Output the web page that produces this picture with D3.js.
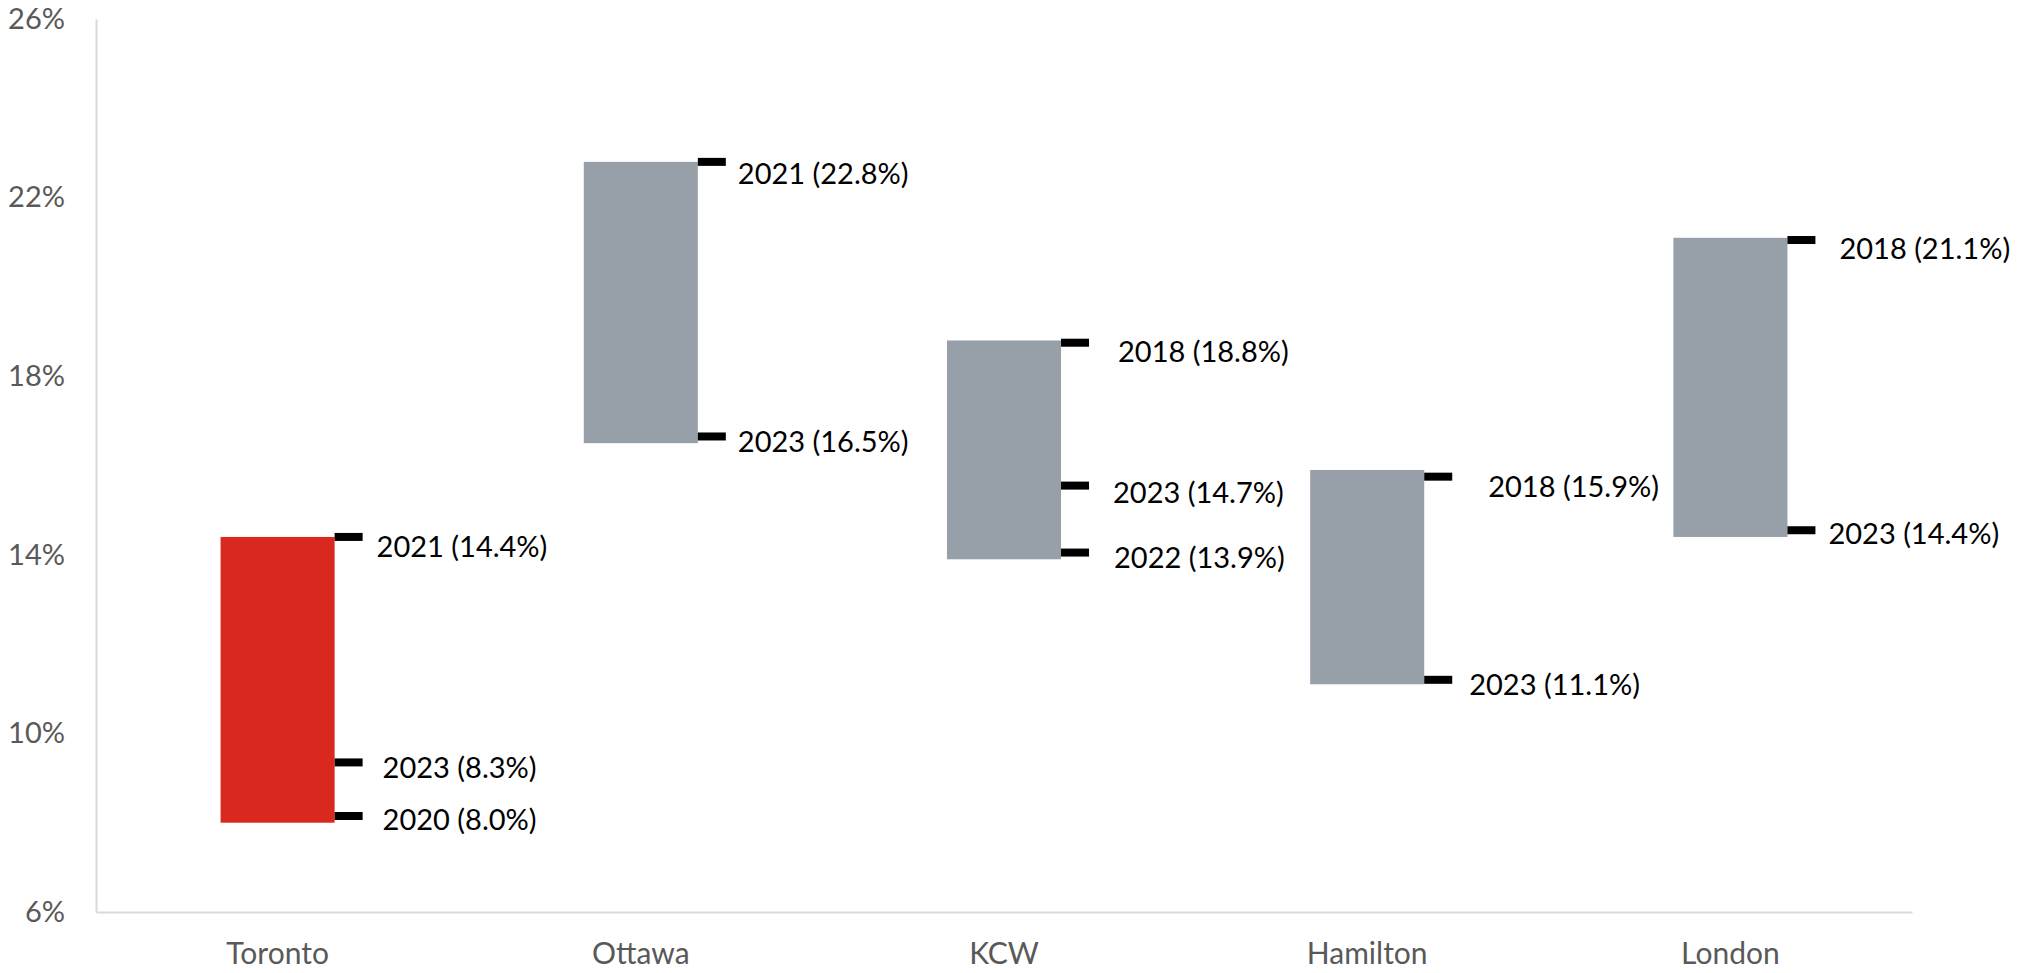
<!DOCTYPE html>
<html>
<head>
<meta charset="utf-8">
<script src="https://cdn.jsdelivr.net/npm/d3@7"></script>
<style>
  body { margin: 0; background: #fff; }
  svg { display: block; }
</style>
</head>
<body>
<div id="chart"></div>
<script>
// categories and the range (min..max) for each
var cities = ["Toronto", "Ottawa", "KCW", "Hamilton", "London"];
var rangeLow = [8.0, 16.5, 13.9, 11.1, 14.4];
var rangeHigh = [14.4, 22.8, 18.8, 15.9, 21.1];
var barColors = ["#d9281d", "#97a0a8", "#97a0a8", "#97a0a8", "#97a0a8"];

// labelled years
var pointCity = ["Toronto", "Toronto", "Toronto", "Ottawa", "Ottawa", "KCW", "KCW", "KCW", "Hamilton", "Hamilton", "London", "London"];
var pointYear = ["2021", "2023", "2020", "2021", "2023", "2018", "2023", "2022", "2018", "2023", "2018", "2023"];
var pointValue = [14.4, 8.3, 8.0, 22.8, 16.5, 18.8, 14.7, 13.9, 15.9, 11.1, 21.1, 14.4];
// where the dash marker sits in the picture (nudged apart in the original)
var markAt = [14.4, 9.35, 8.15, 22.8, 16.65, 18.75, 15.55, 14.05, 15.75, 11.2, 21.05, 14.55];

var yTicks = [6, 10, 14, 18, 22, 26];

// label nudges [dx from bar edge, dy from marker]
var labelNudge = [[42, 10], [48, 5], [48, 4], [40, 12], [40, 5], [57, 9], [52, 7], [53, 5], [64, 10], [45, 5], [52, 9], [41, 3]];

var svgWidth = 2039, svgHeight = 973;
var margin = { top: 19, right: 127, bottom: 61, left: 96 };

var svg = d3.select("#chart").append("svg")
    .attr("width", svgWidth)
    .attr("height", svgHeight);

var font = "Lato, 'Open Sans', sans-serif";

var x = d3.scaleBand()
    .domain(cities)
    .range([margin.left, svgWidth - margin.right])
    .paddingInner(0.686)
    .paddingOuter(0.343);

var y = d3.scaleLinear()
    .domain([6, 26])
    .range([svgHeight - margin.bottom, margin.top]);

// y axis
var yAxis = svg.append("g")
    .attr("transform", `translate(${margin.left},0)`)
    .call(d3.axisLeft(y).tickValues(yTicks).tickSize(0).tickPadding(31).tickFormat(d => d + "%"));
yAxis.select(".domain").attr("stroke", "#d9d9d9").attr("stroke-width", 2);
yAxis.selectAll("text")
    .style("font-family", font)
    .style("font-size", "29px")
    .attr("fill", "#595959");

// x axis
var xAxis = svg.append("g")
    .attr("transform", `translate(0,${y(6)})`)
    .call(d3.axisBottom(x).tickSize(0).tickPadding(31));
xAxis.select(".domain").attr("stroke", "#d9d9d9").attr("stroke-width", 2);
xAxis.selectAll("text")
    .style("font-family", font)
    .style("font-size", "30px")
    .attr("fill", "#595959");

// range bars
svg.append("g").selectAll("rect")
    .data(cities)
    .join("rect")
    .attr("x", d => x(d))
    .attr("width", x.bandwidth())
    .attr("y", (d, i) => y(rangeHigh[i]))
    .attr("height", (d, i) => y(rangeLow[i]) - y(rangeHigh[i]))
    .attr("fill", (d, i) => barColors[i]);

// dash markers + labels
var pts = pointCity.map((c, i) => ({ city: c, year: pointYear[i], value: pointValue[i], at: markAt[i], nudge: labelNudge[i] }));

var g = svg.append("g");
g.selectAll("rect")
    .data(pts)
    .join("rect")
    .attr("x", d => x(d.city) + x.bandwidth())
    .attr("y", d => y(d.at) - 4)
    .attr("width", 28)
    .attr("height", 8)
    .attr("fill", "#000");

g.selectAll("text")
    .data(pts)
    .join("text")
    .attr("x", d => x(d.city) + x.bandwidth() + d.nudge[0])
    .attr("y", d => y(d.at) + d.nudge[1])
    .attr("dy", "0.36em")
    .style("font-family", font)
    .style("font-size", "29px")
    .attr("fill", "#000")
    .text(d => `${d.year} (${d.value.toFixed(1)}%)`);
</script>
</body>
</html>
